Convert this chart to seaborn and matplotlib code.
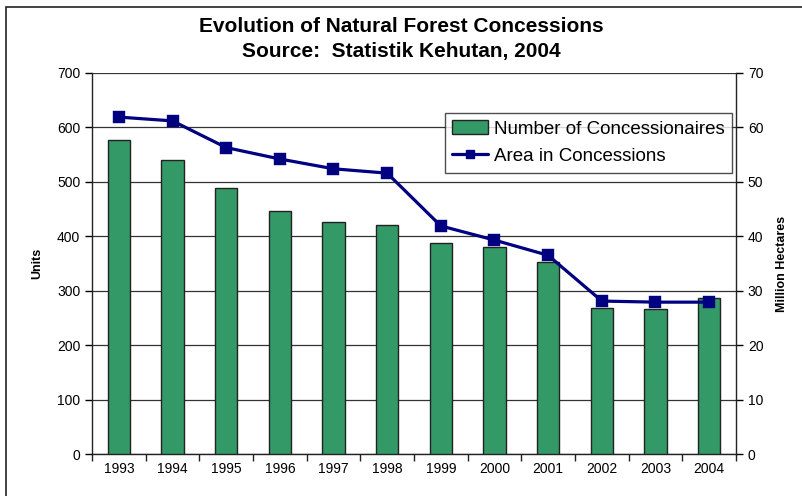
import matplotlib
matplotlib.use("Agg")
import matplotlib.pyplot as plt
import seaborn as sns
import pandas as pd
from matplotlib.patches import Rectangle
from matplotlib.lines import Line2D
from matplotlib.patches import Patch

years = ["1993", "1994", "1995", "1996", "1997", "1998", "1999", "2000", "2001", "2002", "2003", "2004"]
concessionaires = [576, 541, 488, 447, 427, 420, 387, 381, 352, 269, 267, 287]
area_mha = [61.9, 61.2, 56.3, 54.2, 52.4, 51.6, 41.9, 39.3, 36.5, 28.1, 27.9, 27.9]

df = pd.DataFrame({"year": years, "units": concessionaires, "area": area_mha})

sns.set_theme(style="white")
plt.rcParams["font.family"] = ["Liberation Sans", "DejaVu Sans"]
plt.rcParams["text.color"] = "black"
plt.rcParams["axes.labelcolor"] = "black"
plt.rcParams["xtick.color"] = "black"
plt.rcParams["ytick.color"] = "black"

W, H = 802, 496
fig = plt.figure(figsize=(W / 100, H / 100), dpi=100)
ax = fig.add_axes([92 / W, 1 - 454 / H, (736 - 92) / W, (454 - 73) / H])

bar_color = "#339966"
line_color = "#000080"

sns.barplot(data=df, x="year", y="units", color=bar_color, width=0.42,
            edgecolor="#222222", linewidth=1.0, saturation=1, ax=ax, zorder=3)
ax.set_ylim(0, 700)
ax.set_yticks(range(0, 701, 100))
ax.yaxis.grid(True, color="#333333", linewidth=0.9, zorder=0)
ax.set_axisbelow(True)
ax.set_xlabel("")
ax.set_ylabel("Units", fontsize=9, fontweight="bold", labelpad=10, color="black")
for s in ["top", "right"]:
    ax.spines[s].set_visible(False)
for s in ["left", "bottom"]:
    ax.spines[s].set_color("#222222")
    ax.spines[s].set_linewidth(1.0)
ax.tick_params(axis="both", labelsize=10, labelcolor="black", length=5, width=1.0, direction="out")
ax.tick_params(axis="x", length=5, pad=6)
ax.set_xticks([i + 0.5 for i in range(-1, 12)], minor=True)
ax.tick_params(axis="x", which="major", length=0)
ax.tick_params(axis="x", which="minor", length=5, width=1.0, color="#222222", bottom=True)
ax.set_xlim(-0.5, 11.5)

ax2 = ax.twinx()
sns.pointplot(data=df, x="year", y="area", color=line_color, markers="s",
              linewidth=2.3, markersize=7, ax=ax2)
ax2.set_ylim(0, 70)
ax2.set_yticks(range(0, 71, 10))
ax2.set_xlim(-0.5, 11.5)
ax2.set_ylabel("Million Hectares", fontsize=9, fontweight="bold", labelpad=9, color="black")
ax2.set_xlabel("")
for s in ["top", "left", "bottom"]:
    ax2.spines[s].set_visible(False)
ax2.spines["right"].set_color("#222222")
ax2.spines["right"].set_linewidth(1.0)
ax2.tick_params(axis="y", labelsize=10, length=5, width=1.0, direction="out", labelcolor="black")

handles = [Patch(facecolor=bar_color, edgecolor="#222222", linewidth=1.0),
           Line2D([0], [0], color=line_color, lw=2.3, marker="s", markersize=6)]
leg = ax2.legend(handles, ["Number of Concessionaires", "Area in Concessions"],
                 loc="upper right", bbox_to_anchor=((732 - 92) / 644, (454 - 113) / 381),
                 fontsize=13.5, frameon=True, fancybox=False, edgecolor="#222222",
                 borderpad=0.4, handlelength=1.9, handletextpad=0.3, labelspacing=0.55,
                 borderaxespad=0)
leg.get_frame().set_linewidth(1.0)
for t in leg.get_texts():
    t.set_color("black")

fig.text(0.5, 1 - 27 / H, "Evolution of Natural Forest Concessions", ha="center", va="center",
         fontsize=15, fontweight="bold", color="black")
fig.text(0.5, 1 - 52 / H, "Source:  Statistik Kehutan, 2004", ha="center", va="center",
         fontsize=15, fontweight="bold", color="black")

fig.patches.append(Rectangle((6 / W, -0.05), 1.0, 1 - 7 / H + 0.05, transform=fig.transFigure,
                             fill=False, edgecolor="#222222", linewidth=1.2))

fig.savefig("out.png", dpi=100)
